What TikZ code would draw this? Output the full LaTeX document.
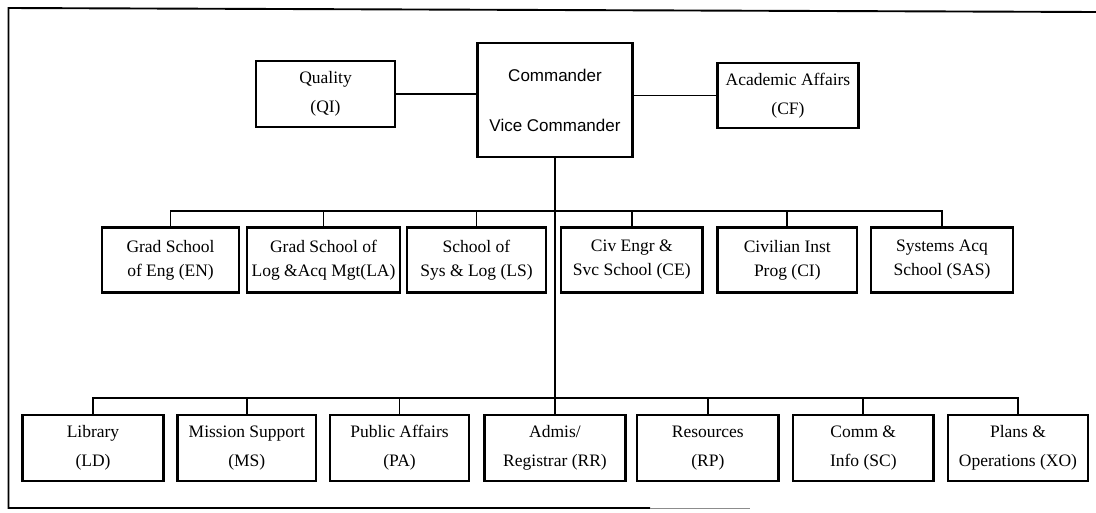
\documentclass[tikz,border=0pt]{standalone}
\usepackage{fontspec}
\setmainfont{Liberation Serif}
\setsansfont{Liberation Sans}
\begin{document}
\begin{tikzpicture}[x=1pt,y=-1pt,
  unit/.style={draw, line width=2.4pt, align=center, inner sep=0pt,
    minimum height=66pt, font=\fontsize{17.5}{29}\selectfont},
  school/.style={unit, minimum height=65pt, font=\fontsize{17.5}{24}\selectfont},
  conn/.style={line width=1.9pt},
  outline/.style={line width=1.9pt}]
\useasboundingbox (0,0) rectangle (1096,512);

% open outer frame (top, left and part of the bottom)
\draw[outline] (1096,12) -- (8.5,8) -- (8.5,508) -- (650,508);
\draw[outline, line width=1pt, black!45] (650,508) -- (750,508);

% top level
\node[unit, minimum width=155pt, minimum height=114pt,
  font=\sffamily\fontsize{17}{50}\selectfont] (cmd) at (555,100) {Commander\\Vice Commander};
\node[unit, minimum width=139pt] (q) at (325.5,94) {Quality\\(QI)};
\node[unit, minimum width=141pt, minimum height=65pt] (aa) at (788,95.5) {Academic Affairs\\(CF)};

% schools
\node[school, minimum width=137pt]   (en)  at (170.5,260) {Grad School\\of Eng (EN)};
\node[school, minimum width=153pt]   (la)  at (323.5,260) {Grad School of\\Log \&Acq Mgt(LA)};
\node[school, minimum width=139pt]   (ls)  at (476.5,260) {School of\\Sys \& Log (LS)};
\node[school, minimum width=141.5pt] (ce)  at (631.8,260) {Civ Engr \&\\Svc School (CE)};
\node[school, minimum width=139.5pt] (ci)  at (787.3,260) {Civilian Inst\\Prog (CI)};
\node[school, minimum width=142pt]   (sas) at (942,260)   {Systems Acq\\School (SAS)};

% staff offices
\node[unit, minimum width=141pt]   (ld) at (93,448)    {Library\\(LD)};
\node[unit, minimum width=138.5pt] (ms) at (246.8,448) {Mission Support\\(MS)};
\node[unit, minimum width=139pt]   (pa) at (399.5,448) {Public Affairs\\(PA)};
\node[unit, minimum width=141pt]   (rr) at (555,448)   {Admis/\\Registrar (RR)};
\node[unit, minimum width=141.6pt] (rp) at (707.8,448) {Resources\\(RP)};
\node[unit, minimum width=140.6pt] (sc) at (863.3,448) {Comm \&\\Info (SC)};
\node[unit, minimum width=140pt]   (xo) at (1018,448)  {Plans \&\\Operations (XO)};

% bus levels
\coordinate (busm) at (0,211);
\coordinate (busb) at (0,398);

% connectors
\draw[conn] (q.east) -- (q.east -| cmd.west);
\draw[conn] (cmd.east |- aa.west) -- (aa.west);
\draw[conn] (cmd.south) -- (rr.north);
\draw[conn] (en.north) -- (en.north |- busm) -- (sas.north |- busm) -- (sas.north);
\foreach \n in {la,ls,ce,ci} \draw[conn] (\n.north) -- (\n.north |- busm);
\draw[conn] (ld.north) -- (ld.north |- busb) -- (xo.north |- busb) -- (xo.north);
\foreach \n in {ms,pa,rp,sc} \draw[conn] (\n.north) -- (\n.north |- busb);
\end{tikzpicture}
\end{document}
